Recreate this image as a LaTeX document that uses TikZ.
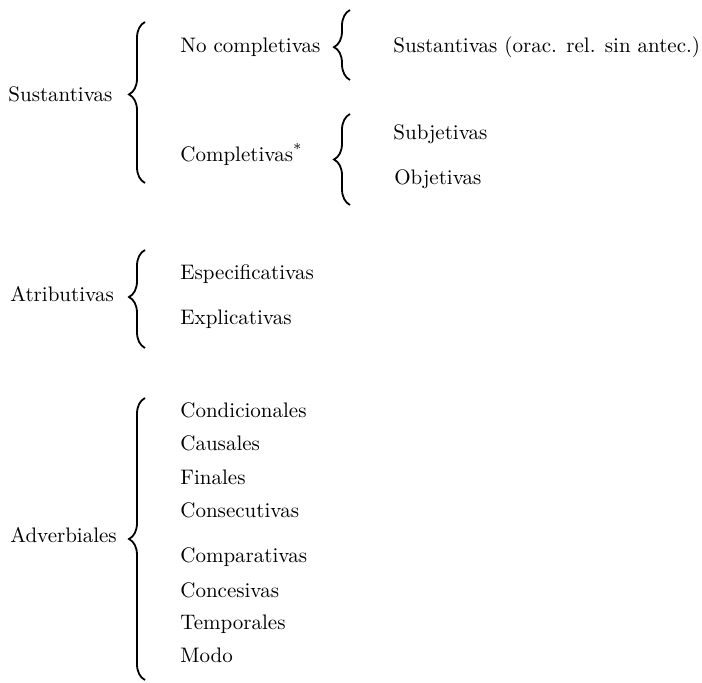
\documentclass[tikz,border=0pt]{standalone}
\usetikzlibrary{decorations.pathreplacing}
\begin{document}
\begin{tikzpicture}[x=0.5pt,y=-0.5pt,
  lbl/.style={anchor=base west, inner sep=0pt, font=\fontsize{10.5}{12}\selectfont},
  brc/.style={decorate, decoration={brace, amplitude=8pt, aspect=#1}, line width=0.9pt},
  brc/.default=0.5]
\useasboundingbox (0,0) rectangle (702,683);
% level 1
\node[lbl] (sus) at (8,102) {Sustantivas};
\node[lbl] (atr) at (10,302) {Atributivas};
\node[lbl] (adv) at (10,543) {Adverbiales};
% Sustantivas branch
\node[lbl] (noc) at (180,53) {No completivas};
\node[lbl] (com) at (180,162) {Completivas\textsuperscript{*}};
\node[lbl] (srel) at (393,53) {Sustantivas (orac. rel. sin antec.)};
\node[lbl] (sub) at (393,140) {Subjetivas};
\node[lbl] (obj) at (394,185) {Objetivas};
% Atributivas branch
\node[lbl] (esp) at (180,280) {Especificativas};
\node[lbl] (exp) at (180,325) {Explicativas};
% Adverbiales branch
\node[lbl] (a1) at (180,418) {Condicionales};
\node[lbl] (a2) at (180,451) {Causales};
\node[lbl] (a3) at (180,485) {Finales};
\node[lbl] (a4) at (180,518) {Consecutivas};
\node[lbl] (a5) at (180,563) {Comparativas};
\node[lbl] (a6) at (180,598) {Concesivas};
\node[lbl] (a7) at (180,630) {Temporales};
\node[lbl] (a8) at (180,663) {Modo};
% brace end points
\coordinate (b1t) at (145,22);  \coordinate (b1b) at (145,183);
\coordinate (b2t) at (350,10);  \coordinate (b2b) at (350,80);
\coordinate (b3t) at (350,114); \coordinate (b3b) at (350,205);
\coordinate (b4t) at (145,250); \coordinate (b4b) at (145,348);
\coordinate (b5t) at (145,398); \coordinate (b5b) at (145,680);
% braces
\draw[brc=0.55] (b1b) -- (b1t);
\draw[brc=0.47] (b2b) -- (b2t);
\draw[brc=0.5] (b3b) -- (b3t);
\draw[brc=0.52] (b4b) -- (b4t);
\draw[brc=0.5] (b5b) -- (b5t);
\end{tikzpicture}
\end{document}
